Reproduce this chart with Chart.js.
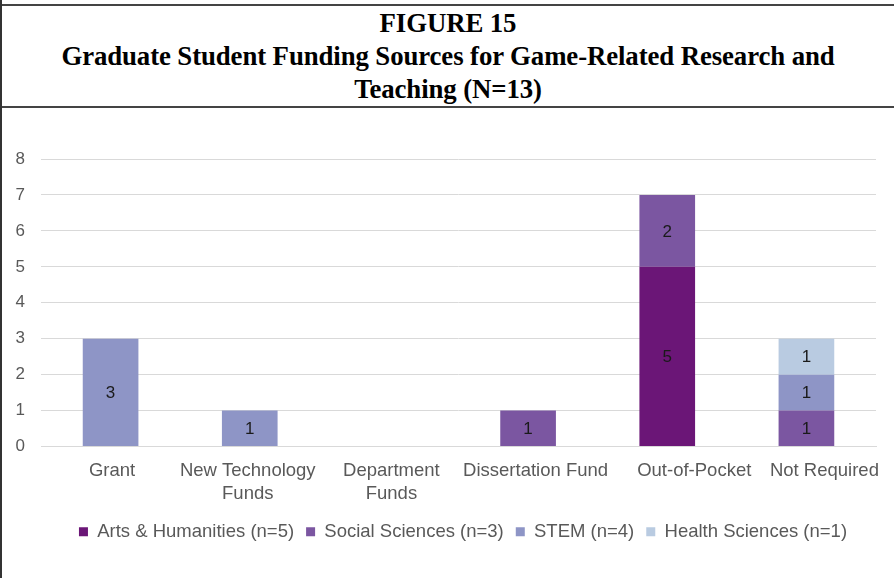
<!DOCTYPE html>
<html>
<head>
<meta charset="utf-8">
<script src="https://cdn.jsdelivr.net/npm/chart.js@4.4.0/dist/chart.umd.min.js"></script>
<style>
  body { margin: 0; background: #fff; }
  #frame { position: relative; width: 894px; height: 578px; box-sizing: border-box; border-left: 2px solid #333; overflow: hidden; }
  #title { position: absolute; left: 0; top: 4px; width: 892px; height: 104px; box-sizing: border-box;
    border-top: 2px solid #444; border-bottom: 2px solid #444;
    font-family: "Liberation Serif", "Times New Roman", serif; font-weight: bold; font-size: 26.8px;
    line-height: 33px; text-align: center; color: #000; padding-top: 1px; letter-spacing: -0.1px; }
  #wrap { position: absolute; left: 2px; top: 108px; width: 892px; height: 470px; }
</style>
</head>
<body>
<div id="frame">
  <div id="title">FIGURE 15<br>Graduate Student Funding Sources for Game-Related Research and<br>Teaching (N=13)</div>
  <div id="wrap"><canvas id="myChart"></canvas></div>
</div>
<script>
const categories = ['Grant', ['New Technology', 'Funds'], ['Department', 'Funds'], 'Dissertation Fund', 'Out-of-Pocket', 'Not Required'];
const artsHumanities = [0, 0, 0, 0, 5, 0];
const socialSciences = [0, 0, 0, 1, 2, 1];
const stem = [3, 1, 0, 0, 0, 1];
const healthSciences = [0, 0, 0, 0, 0, 1];
const yTicks = [0, 1, 2, 3, 4, 5, 6, 7, 8];

const font = '"Liberation Sans", Arial, sans-serif';

// the original's category labels drift right of their bars, nudge them the same way
const labelNudge = [1.5, -2, 2.5, 7.5, 27, 18];

// draw the count in the middle of each stacked segment
const segmentLabels = {
  id: 'segmentLabels',
  afterDatasetsDraw(chart) {
    const ctx = chart.ctx;
    ctx.save();
    ctx.font = '17px ' + font;
    ctx.fillStyle = '#1a1a1a';
    ctx.textAlign = 'center';
    ctx.textBaseline = 'middle';
    chart.data.datasets.forEach((ds, i) => {
      chart.getDatasetMeta(i).data.forEach((bar, j) => {
        const v = ds.data[j];
        if (!v) return;
        ctx.fillText(String(v), bar.x, (bar.y + bar.base) / 2 + 1);
      });
    });
    ctx.restore();
  }
};

// category labels under the axis
const categoryLabels = {
  id: 'categoryLabels',
  afterDraw(chart) {
    const ctx = chart.ctx;
    const xScale = chart.scales.x;
    const top = chart.chartArea.bottom;
    ctx.save();
    ctx.font = '18.5px ' + font;
    ctx.fillStyle = '#595959';
    ctx.textAlign = 'center';
    ctx.textBaseline = 'middle';
    chart.data.labels.forEach((lbl, i) => {
      const lines = Array.isArray(lbl) ? lbl : [lbl];
      const x = xScale.getPixelForValue(i) + labelNudge[i];
      lines.forEach((line, k) => ctx.fillText(line, x, top + 24 + k * 23));
    });
    ctx.restore();
  }
};

// the legend in the original sits a bit right of centre
const legendShift = {
  id: 'legendShift',
  afterLayout(chart) {
    chart.legend.left += 23;
    chart.legend.right += 23;
  }
};

const canvas = document.getElementById('myChart');
const ctx = canvas.getContext('2d');

new Chart(ctx, {
  type: 'bar',
  data: {
    labels: categories,
    datasets: [
      { label: 'Arts & Humanities (n=5)', data: artsHumanities, backgroundColor: '#6b1677' },
      { label: 'Social Sciences (n=3)', data: socialSciences, backgroundColor: '#7b56a1' },
      { label: 'STEM (n=4)', data: stem, backgroundColor: '#8e95c6' },
      { label: 'Health Sciences (n=1)', data: healthSciences, backgroundColor: '#b9cbe1' },
    ],
  },
  options: {
    responsive: true,
    maintainAspectRatio: false,
    animation: false,
    categoryPercentage: 1,
    barPercentage: 0.4,
    layout: { padding: { top: 51, right: 20, bottom: 27, left: 0 } },
    plugins: {
      legend: {
        position: 'bottom',
        labels: {
          boxWidth: 9,
          boxHeight: 9,
          padding: 12,
          color: '#595959',
          font: { family: font, size: 18.5 },
        },
      },
      tooltip: { enabled: false },
    },
    scales: {
      x: {
        stacked: true,
        afterFit: (axis) => { axis.height = 64; },
        grid: { display: false },
        border: { color: '#d9d9d9' },
        ticks: { display: false },
      },
      y: {
        stacked: true,
        min: 0,
        max: 8,
        afterFit: (axis) => { axis.width = 37; },
        afterBuildTicks: (axis) => { axis.ticks = yTicks.map(v => ({ value: v })); },
        grid: { color: '#d9d9d9', drawTicks: false },
        border: { display: false },
        ticks: {
          color: '#595959',
          padding: 16,
          font: { family: font, size: 17 },
        },
      },
    },
  },
  plugins: [segmentLabels, categoryLabels, legendShift],
});
</script>
</body>
</html>
